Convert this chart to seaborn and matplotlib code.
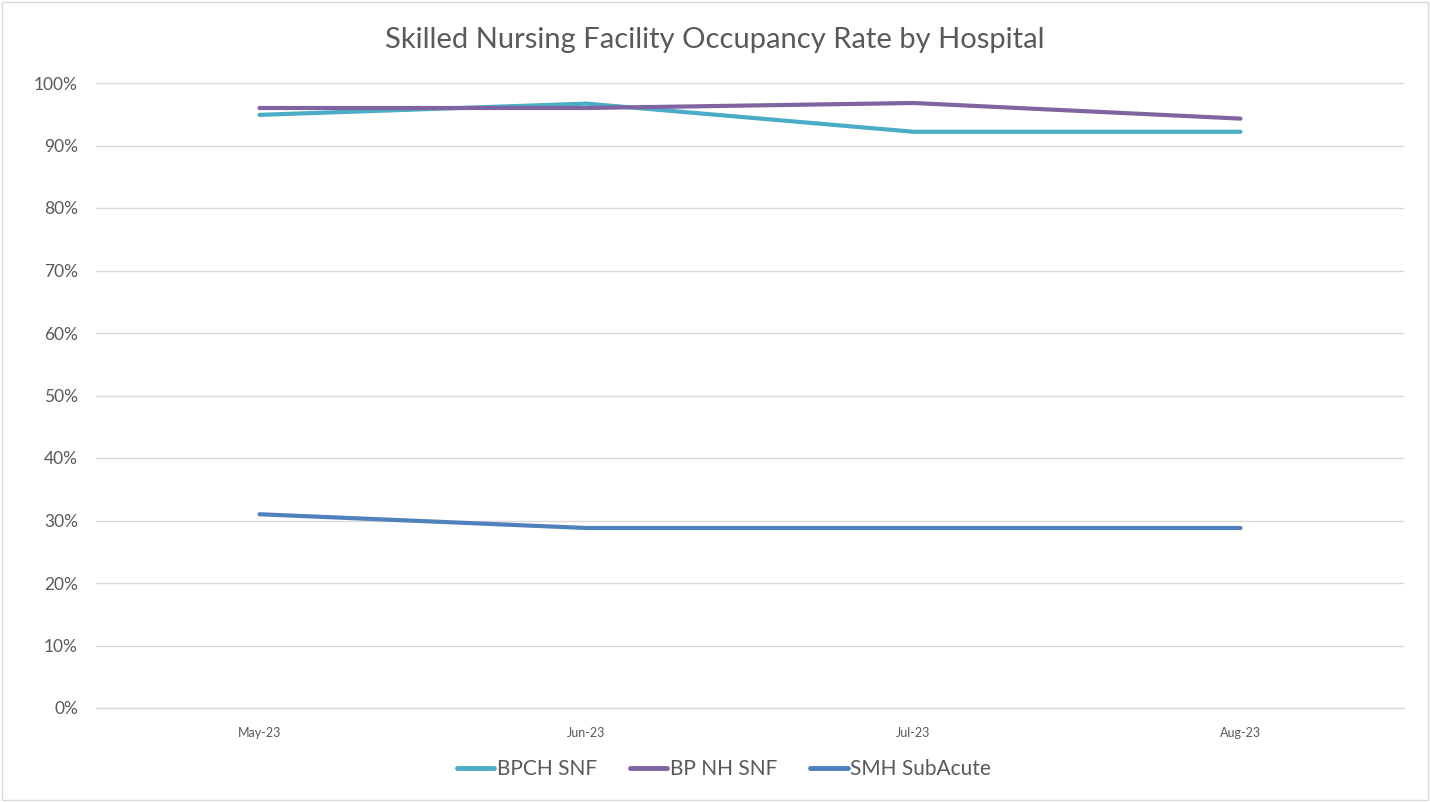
import seaborn as sns
import pandas as pd
import matplotlib.pyplot as plt
from matplotlib.ticker import PercentFormatter
from matplotlib.patches import Rectangle

months = ["May-23", "Jun-23", "Jul-23", "Aug-23"]
bpch_snf = [94.9, 96.7, 92.2, 92.2]
bp_nh_snf = [96.0, 96.0, 96.8, 94.3]
smh_subacute = [31.0, 28.8, 28.8, 28.8]
series_names = ["BPCH SNF", "BP NH SNF", "SMH SubAcute"]
colors = ["#4BACC6", "#8064A2", "#4F81BD"]

df = pd.DataFrame({
    "Month": months * 3,
    "Rate": bpch_snf + bp_nh_snf + smh_subacute,
    "Series": [s for s in series_names for _ in months],
})

sns.set_theme(style="white")
plt.rcParams['font.family'] = ['Lato', 'DejaVu Sans']

fig = plt.figure(figsize=(14.3, 8.02), dpi=100)
ax = fig.add_axes([96 / 1430, 1 - 708 / 802, 1308 / 1430, 625 / 802])

sns.lineplot(data=df, x="Month", y="Rate", hue="Series", palette=colors,
             sort=False, linewidth=3, ax=ax, legend=True)

ax.set_xlim(-0.5, 3.5)
ax.set_ylim(0, 100)
ax.set_yticks(range(0, 101, 10))
ax.yaxis.set_major_formatter(PercentFormatter(decimals=0))
ax.grid(axis="y", color="#D9D9D9", linewidth=1)
ax.set_axisbelow(True)
for s in ["top", "right", "left"]:
    ax.spines[s].set_visible(False)
ax.spines["bottom"].set_color("#D9D9D9")
ax.spines["bottom"].set_linewidth(1)
ax.tick_params(axis="y", labelsize=12.5, labelcolor="#595959", length=0, pad=13)
ax.tick_params(axis="x", labelsize=9, labelcolor="#595959", length=0, pad=14)
ax.set_xlabel("")
ax.set_ylabel("")

fig.suptitle("Skilled Nursing Facility Occupancy Rate by Hospital",
             y=1 - 40 / 802, va="center", fontsize=21, color="#595959")

handles, labels = ax.get_legend_handles_labels()
for h in handles:
    h.set_linewidth(3.5)
ax.legend(handles, labels, loc="center", bbox_to_anchor=(0.48, -0.098),
          ncol=3, frameon=False, fontsize=15, labelcolor="#595959",
          handlelength=1.8, handletextpad=0.1, columnspacing=1.6)

fig.patches.append(Rectangle((2 / 1430, 2 / 802), 1 - 4 / 1430, 1 - 4 / 802,
                             transform=fig.transFigure, fill=False,
                             edgecolor="#D9D9D9", linewidth=1))

plt.savefig("out.png", dpi=100)
plt.close()
